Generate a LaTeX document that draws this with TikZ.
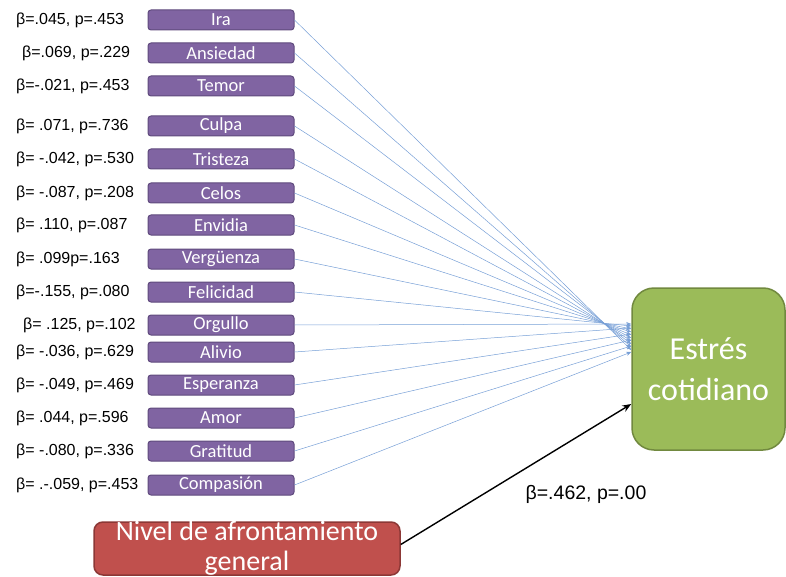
\documentclass[tikz,border=0pt]{standalone}
\usepackage{fontspec}
\setmainfont{Carlito}
\newfontfamily\arialfont{Liberation Sans}
\usetikzlibrary{arrows.meta}
\definecolor{emopurple}{HTML}{8064A2}
\definecolor{emoedge}{HTML}{5F4A7D}
\definecolor{stressgreen}{HTML}{9BBB59}
\definecolor{stressedge}{HTML}{71893F}
\definecolor{copered}{HTML}{C0504D}
\definecolor{copeedge}{HTML}{8C3836}
\definecolor{pathblue}{HTML}{779FD6}
\begin{document}
\begin{tikzpicture}[x=1pt,y=-1pt,
  emotion/.style={draw=emoedge, fill=emopurple, line width=1pt, rounded corners=3pt,
    minimum width=146pt, minimum height=20pt, inner sep=0pt, text=white,
    font=\fontsize{18.5}{18.5}\selectfont},
  coef/.style={anchor=west, inner sep=0pt, font=\arialfont\fontsize{16}{16}\selectfont},
  effect/.style={draw=pathblue, line width=0.5pt, -{Stealth[length=5pt,width=4pt]}},
  mainpath/.style={draw=black, line width=1.4pt, -{Stealth[length=9pt,width=7pt]}}
]
\useasboundingbox (0,0) rectangle (786,577);

% outcome
\node[draw=stressedge, fill=stressgreen, line width=1.5pt, rounded corners=22pt,
  minimum width=153pt, minimum height=162pt, text=white, align=center,
  font=\fontsize{32}{41}\selectfont] (estres) at (708.5,369) {Estrés\\cotidiano};

% general coping predictor
\node[draw=copeedge, fill=copered, line width=1.5pt, rounded corners=9pt,
  minimum width=306pt, minimum height=53pt] (afront) at (247,548.5) {};
\node[text=white, align=center, inner sep=0pt,
  font=\fontsize{28}{30}\selectfont] (afronttext) at (247,548) {Nivel de afrontamiento\\general};

% emotions with their coefficients and paths
\foreach \n/\y/\emo/\lx/\co/\ey in {
  1/20/Ira/16/{β=.045, p=.453}/350,
  2/53/Ansiedad/22/{β=.069, p=.229}/347,
  3/86/Temor/16/{β=-.021, p=.453}/344,
  4/126/Culpa/16/{β= .071, p=.736}/341,
  5/159/Tristeza/16/{β= -.042, p=.530}/338,
  6/193/Celos/16/{β= -.087, p=.208}/335,
  7/225/Envidia/16/{β= .110, p=.087}/332,
  8/259/Vergüenza/16/{β= .099p=.163}/329,
  9/292/Felicidad/16/{β=-.155, p=.080}/326,
  10/325/Orgullo/23/{β= .125, p=.102}/324,
  11/352/Alivio/16/{β= -.036, p=.629}/328,
  12/385/Esperanza/16/{β= -.049, p=.469}/334,
  13/418/Amor/16/{β= .044, p=.596}/340,
  14/451/Gratitud/16/{β= -.080, p=.336}/346,
  15/485/Compasión/16/{β= .-.059, p=.453}/352} {
  \node[emotion] (emo\n) at (221,\y) {\emo};
  \node[coef] (coef\n) at (\lx,\y) {\co};
  \pgfmathsetmacro{\dy}{369-\ey}
  \draw[effect] (emo\n.east) -- ([yshift=\dy pt]estres.west);
}

\draw[mainpath] ([yshift=4pt]afront.east) -- ([yshift=-35pt]estres.west);
\node[inner sep=0pt, font=\arialfont\fontsize{19.5}{19.5}\selectfont] (beta) at (586,494) {β=.462, p=.00};
\end{tikzpicture}
\end{document}
